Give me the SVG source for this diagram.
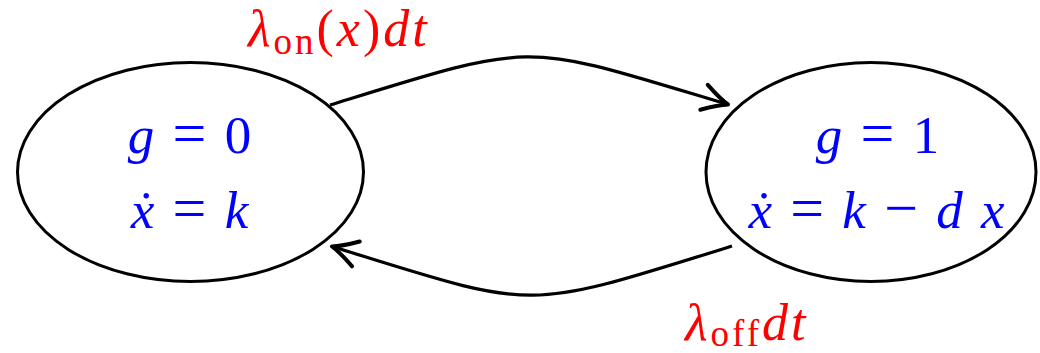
<svg xmlns="http://www.w3.org/2000/svg" width="1040" height="353" viewBox="0 0 1040 353">
<style>
.node{fill:#fff;stroke:#000;stroke-width:3}
.edge{fill:none;stroke:#000;stroke-width:3.2}
.m{font-family:"Liberation Serif","DejaVu Serif",serif;font-size:53px;fill:#0000ff;word-spacing:3px;letter-spacing:1px}
.l{font-family:"Liberation Serif","DejaVu Serif",serif;font-size:52px;fill:#ff0000;letter-spacing:3px}
.i{font-style:italic}
.e{font-size:60px}
.s{font-size:37px}
</style>
<defs>
<marker id="arr" markerUnits="userSpaceOnUse" markerWidth="40" markerHeight="40" viewBox="-30 -20 40 40" refX="0" refY="0" orient="auto" overflow="visible">
<path d="M-25,-13 Q-9,-3 0,0 Q-9,3 -25,13" fill="none" stroke="#000" stroke-width="4" stroke-linecap="round" stroke-linejoin="round"/>
</marker>
</defs>
<g id="node-off">
<ellipse class="node" cx="190.5" cy="172" rx="173" ry="109.5"/>
<text class="m" x="190" y="153" text-anchor="middle"><tspan class="i">g</tspan> <tspan class="e">=</tspan> 0</text>
<text class="m" x="190" y="228" text-anchor="middle"><tspan class="i">ẋ</tspan> <tspan class="e">=</tspan> <tspan class="i">k</tspan></text>
</g>
<g id="node-on">
<ellipse class="node" cx="871" cy="172" rx="165" ry="109.5"/>
<text class="m" x="878" y="153" text-anchor="middle"><tspan class="i">g</tspan> <tspan class="e">=</tspan> 1</text>
<text class="m" x="877" y="228" text-anchor="middle"><tspan class="i">ẋ</tspan> <tspan class="e">=</tspan> <tspan class="i">k</tspan> <tspan class="e">−</tspan> <tspan class="i">d x</tspan></text>
</g>
<g id="connectors">
<path class="edge" d="M330,105 C540,40 520,42 728,104.5" marker-end="url(#arr)"/>
<path class="edge" d="M732,246 C520,312 540,311 332,246.5" marker-end="url(#arr)"/>
</g>
<g id="labels">
<text class="l" x="248" y="46"><tspan class="i">λ</tspan><tspan class="s" dy="8">on</tspan><tspan dy="-8">(</tspan><tspan class="i">x</tspan>)<tspan class="i">dt</tspan></text>
<text class="l" x="685" y="340"><tspan class="i">λ</tspan><tspan class="s" dy="6">off</tspan><tspan class="i" dy="-6">dt</tspan></text>
</g>
</svg>
